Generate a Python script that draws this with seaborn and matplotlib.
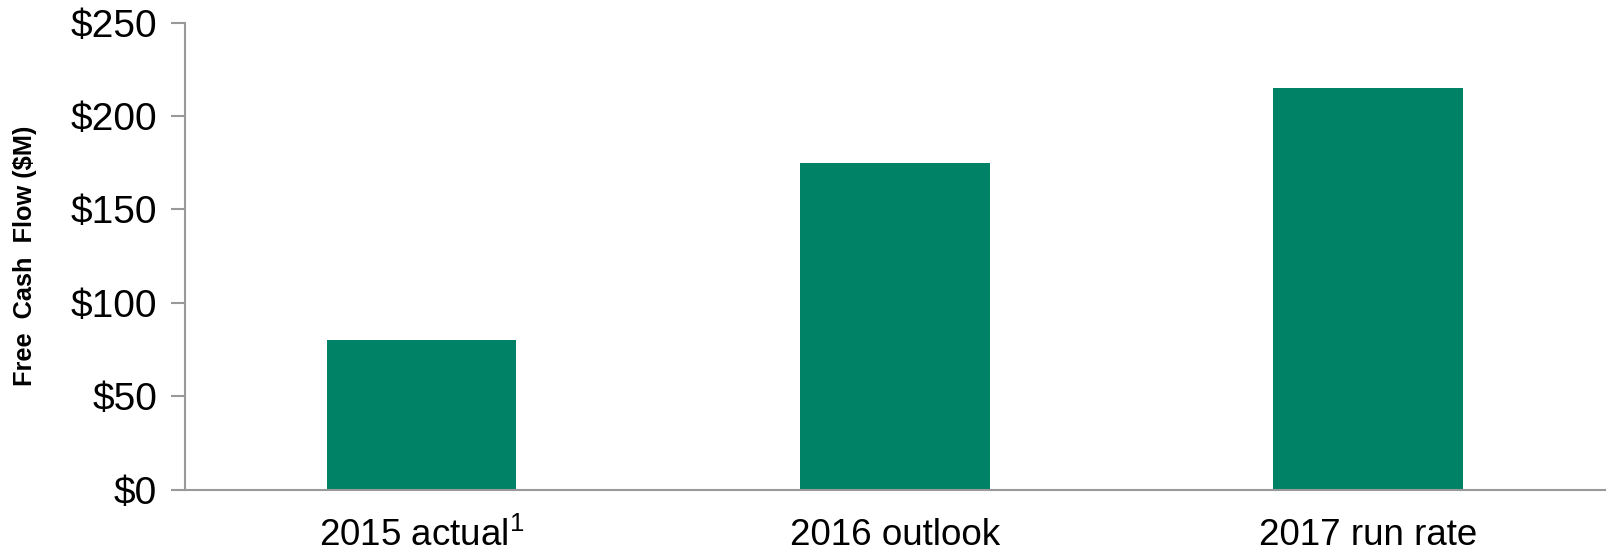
import matplotlib
matplotlib.use("Agg")
import matplotlib.pyplot as plt
import seaborn as sns
import pandas as pd
from matplotlib.ticker import FuncFormatter, FixedLocator

categories = ["2015 actual$^{1}$", "2016 outlook", "2017 run rate"]
values = [80, 175, 215]
y_ticks = [0, 50, 100, 150, 200, 250]

sns.set_style("white")
plt.rcParams['font.family'] = ['Liberation Sans', 'DejaVu Sans']
plt.rcParams['mathtext.fontset'] = 'custom'
plt.rcParams['mathtext.rm'] = 'Liberation Sans'
plt.rcParams['mathtext.it'] = 'Liberation Sans'
plt.rcParams['mathtext.default'] = 'regular'
plt.rcParams['text.color'] = 'black'

df = pd.DataFrame({"cat": categories, "val": values})

fig = plt.figure(figsize=(16.08, 5.51), dpi=100)
ax = fig.add_axes([0.115, 0.111, 0.883, 0.848])
sns.barplot(data=df, x="cat", y="val", color="#008266", width=0.4,
            saturation=1, ax=ax, edgecolor="none")

ax.set_xlim(-0.5, 2.5)
ax.set_ylim(0, 250)
ax.set_yticks(y_ticks)
ax.yaxis.set_major_formatter(FuncFormatter(lambda v, p: f"${int(v)}"))
ax.xaxis.set_major_locator(FixedLocator([0, 1, 2]))
ax.xaxis.set_minor_locator(FixedLocator([-0.5, 0.5, 1.5, 2.5]))
ax.tick_params(axis="x", which="major", length=0, pad=20, labelsize=26.5,
               labelcolor="black")
ax.tick_params(axis="x", which="minor", length=10, width=1.5, color="#999999")
ax.tick_params(axis="y", which="major", length=10, width=1.5, color="#999999",
               labelsize=28, pad=10, left=True, labelcolor="black")

for s in ["top", "right"]:
    ax.spines[s].set_visible(False)
for s in ["left", "bottom"]:
    ax.spines[s].set_color("#999999")
    ax.spines[s].set_linewidth(1.5)

ax.set_xlabel("")
ax.set_ylabel("Free  Cash  Flow ($M)", fontsize=18.3, fontweight="bold",
              color="black")
ax.yaxis.set_label_coords(-0.104, 0.5)

fig.savefig("out.png", dpi=100)
